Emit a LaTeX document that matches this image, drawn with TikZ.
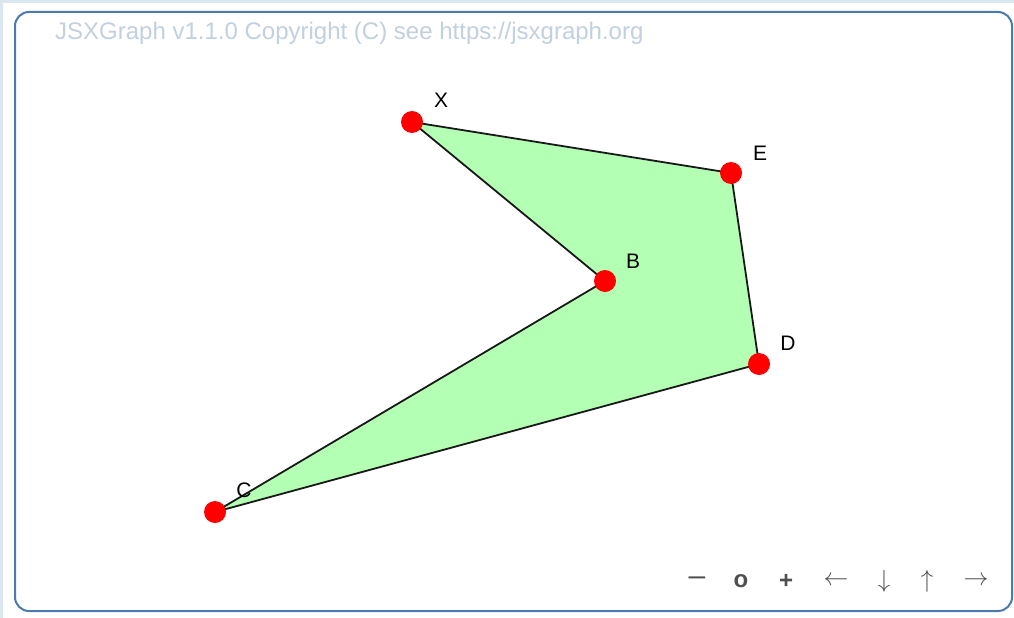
\documentclass[tikz,border=0pt]{standalone}
\usepackage{fontspec}
\setmainfont{Liberation Sans}
\usetikzlibrary{positioning}
\definecolor{frameblue}{HTML}{4A7AAE}
\definecolor{pagetint}{HTML}{DCE6F0}
\definecolor{copygray}{HTML}{C2D0E0}
\definecolor{polygreen}{HTML}{B3FFB3}
\definecolor{navgray}{HTML}{4F4F4F}
\newcommand\navarrow[1]{{\fontsize{30}{30}\selectfont$#1$}}

\begin{document}
\begin{tikzpicture}[x=1pt,y=-1pt,
 vertex/.style={circle,fill=red,inner sep=0pt,minimum size=22pt},
 vlab/.style={font=\fontsize{21}{21}\selectfont,inner sep=0pt},
 edge/.style={line width=1.8pt,black!90},
 navbtn/.style={font=\fontsize{24}{24}\selectfont\bfseries,text=navgray,inner sep=0pt}]
\useasboundingbox (0,0) rectangle (1014,618);
\fill[pagetint] (0,0) rectangle (1014,618);
\fill[white] (3,3) rectangle (1014,618);
\draw[frameblue,line width=2pt,rounded corners=14pt] (15,12) rectangle (1012,611);
\node[font=\fontsize{24}{24}\selectfont,text=copygray,anchor=west,inner sep=0pt]
  (copy) at (55,33) {JSXGraph v1.1.0 Copyright (C) see https://jsxgraph.org};
% Polygon corners.
\coordinate (X) at (412,122);
\coordinate (E) at (731,173);
\coordinate (B) at (605,281);
\coordinate (D) at (759,364);
\coordinate (C) at (215,512);
\fill[polygreen] (X) -- (E) -- (D) -- (C) -- (B) -- cycle;
\draw[edge] (X) -- (E);
\draw[edge] (E) -- (D);
\draw[edge] (D) -- (C);
\draw[edge] (C) -- (B);
\draw[edge] (B) -- (X);
\foreach \p in {X,E,B,D,C}
  \node[vertex] (\p dot) at (\p) {};
\node[vlab] (Xlab) at (441,100) {X};
\node[vlab] (Elab) at (760,153) {E};
\node[vlab] (Blab) at (633,261) {B};
\node[vlab] (Dlab) at (788,343) {D};
\node[vlab] (Clab) at (244,490) {C};
% Navigation bar.
\foreach \nx/\sym/\nm in {697/{{\mdseries\fontsize{30}{30}\selectfont –}}/minus,741/o/zero,786/+/plus,
                           836/{\navarrow{\leftarrow}}/left,884/{\navarrow{\downarrow}}/down,
                           927/{\navarrow{\uparrow}}/up,976/{\navarrow{\rightarrow}}/right}
  \node[navbtn] (nav\nm) at (\nx,581) {\sym};
\end{tikzpicture}
\end{document}
